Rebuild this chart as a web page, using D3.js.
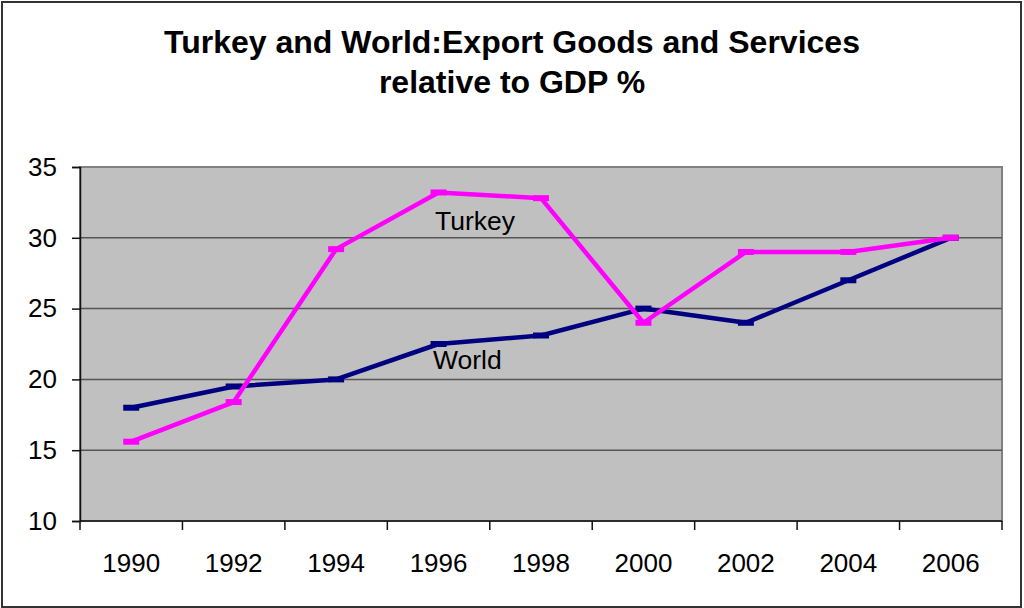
<!DOCTYPE html>
<html>
<head>
<meta charset="utf-8">
<script src="https://cdn.jsdelivr.net/npm/d3@7"></script>
<style>
  body { margin: 0; background: #fff; }
  svg text { font-family: "Liberation Sans", Arial, sans-serif; fill: #000; }
</style>
</head>
<body>
<svg id="chart"></svg>
<script>
// data
const years = ["1990", "1992", "1994", "1996", "1998", "2000", "2002", "2004", "2006"];
const turkey = [15.6, 18.4, 29.2, 33.2, 32.8, 24.0, 29.0, 29.0, 30.0];
const world = [18.0, 19.5, 20.0, 22.5, 23.1, 25.0, 24.0, 27.0, 30.0];
const yTicks = [10, 15, 20, 25, 30, 35];
const titleLines = ["Turkey and World:Export Goods and Services", "relative to GDP %"];

const width = 1024, height = 608;
const plot = { left: 80, top: 167, right: 1002, bottom: 521 };

const svg = d3.select("#chart")
  .attr("width", width)
  .attr("height", height);

// outer frame
svg.append("rect")
  .attr("x", 2).attr("y", 2)
  .attr("width", 1019).attr("height", 605)
  .attr("fill", "#fff")
  .attr("stroke", "#333")
  .attr("stroke-width", 2);

svg.selectAll(".title")
  .data(titleLines).enter()
  .append("text")
  .attr("class", "title")
  .attr("x", 512)
  .attr("y", (d, i) => 53 + i * 40)
  .attr("text-anchor", "middle")
  .attr("font-size", 32)
  .attr("font-weight", "bold")
  .text(d => d);

let x = d3.scaleBand()
  .domain(years)
  .range([plot.left, plot.right]);
let y = d3.scaleLinear()
  .domain([10, 35])
  .range([plot.bottom, plot.top]);

// plot background
svg.append("rect")
  .attr("x", plot.left).attr("y", plot.top)
  .attr("width", plot.right - plot.left)
  .attr("height", plot.bottom - plot.top)
  .attr("fill", "#c0c0c0")
  .attr("stroke", "#808080")
  .attr("stroke-width", 2);

// gridlines
svg.selectAll(".grid")
  .data(yTicks.slice(1, -1)).enter()
  .append("line")
  .attr("class", "grid")
  .attr("x1", plot.left).attr("x2", plot.right)
  .attr("y1", d => y(d)).attr("y2", d => y(d))
  .attr("stroke", "#555")
  .attr("stroke-width", 1.5);

// y axis
let yAxis = d3.axisLeft(y).tickValues(yTicks).tickSize(8).tickPadding(15);
let gy = svg.append("g")
  .attr("transform", `translate(${plot.left},0)`)
  .call(yAxis);
gy.select(".domain").attr("stroke", "#111").attr("stroke-width", 1.5);
gy.selectAll(".tick line").attr("stroke", "#111").attr("stroke-width", 1.5);
gy.selectAll("text")
  .attr("font-size", 26)
  .attr("font-family", "Liberation Sans, Arial, sans-serif")
  .attr("fill", "#000");

// x axis: ticks at band boundaries, labels at band centres
let bounds = years.map(d => x(d)).concat([plot.right]);
svg.append("line")
  .attr("x1", plot.left).attr("x2", plot.right)
  .attr("y1", plot.bottom).attr("y2", plot.bottom)
  .attr("stroke", "#111").attr("stroke-width", 1.5);
svg.selectAll(".xtick")
  .data(bounds).enter()
  .append("line")
  .attr("class", "xtick")
  .attr("x1", d => d).attr("x2", d => d)
  .attr("y1", plot.bottom).attr("y2", plot.bottom + 9)
  .attr("stroke", "#111").attr("stroke-width", 1.5);
svg.selectAll(".xlabel")
  .data(years).enter()
  .append("text")
  .attr("class", "xlabel")
  .attr("x", d => x(d) + x.bandwidth() / 2)
  .attr("y", 572)
  .attr("text-anchor", "middle")
  .attr("font-size", 26)
  .text(d => d);

const line = d3.line()
  .x((d, i) => x(years[i]) + x.bandwidth() / 2)
  .y(d => y(d));

function drawSeries(values, color) {
  svg.append("path")
    .datum(values)
    .attr("d", line)
    .attr("fill", "none")
    .attr("stroke", color)
    .attr("stroke-width", 4.5)
    .attr("stroke-linejoin", "round");
  svg.selectAll(null)
    .data(values).enter()
    .append("rect")
    .attr("x", (d, i) => x(years[i]) + x.bandwidth() / 2 - 8)
    .attr("y", d => y(d) - 3)
    .attr("width", 16)
    .attr("height", 6)
    .attr("fill", color);
}
drawSeries(world, "#000080");
drawSeries(turkey, "#ff00ff");

// series labels
svg.append("text")
  .attr("x", 435).attr("y", 230)
  .attr("font-size", 26.5)
  .text("Turkey");
svg.append("text")
  .attr("x", 433).attr("y", 369)
  .attr("font-size", 26.5)
  .text("World");
</script>
</body>
</html>
